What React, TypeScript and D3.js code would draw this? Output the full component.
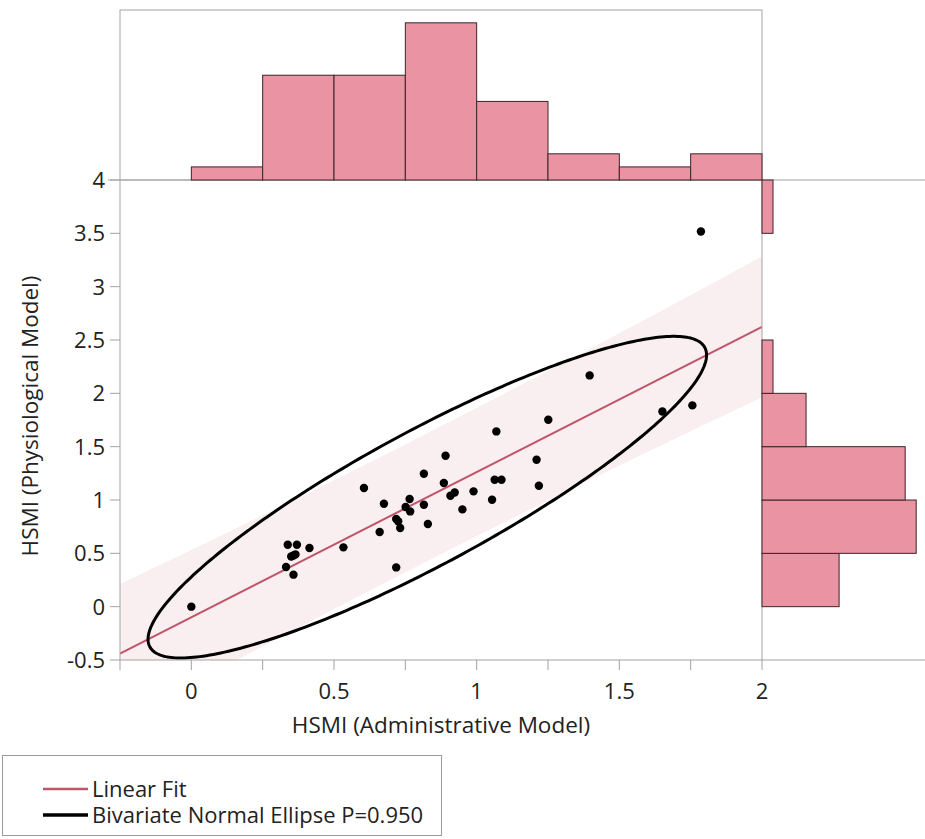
import React, { useEffect, useRef } from 'react';
import * as d3 from 'd3';

// HSMI per hospital: administrative model (x) and physiological model (y)
const adminModel = [0, 0.338, 0.37, 0.358, 0.414, 0.332, 0.358, 0.35, 0.365, 0.605,
  0.675, 0.66, 0.533, 0.718, 0.718, 0.732, 0.751, 0.765, 0.767, 0.815,
  0.815, 0.829, 0.891, 0.885, 0.908, 0.923, 0.95, 1.069, 1.251, 1.21,
  1.063, 1.087, 0.989, 1.054, 1.218, 1.786, 1.396, 1.651, 1.756, 0.725];
const physioModel = [0, 0.58, 0.58, 0.48, 0.55, 0.372, 0.3, 0.47, 0.49, 1.112,
  0.965, 0.7, 0.556, 0.368, 0.822, 0.738, 0.934, 1.009, 0.893, 1.246,
  0.956, 0.775, 1.415, 1.159, 1.04, 1.071, 0.912, 1.643, 1.753, 1.378,
  1.19, 1.19, 1.081, 1.003, 1.134, 3.517, 2.168, 1.83, 1.887, 0.8];

// border histograms
const xBinEdges = [0, 0.25, 0.5, 0.75, 1, 1.25, 1.5, 1.75, 2];
const xBinCounts = [1, 8, 8, 12, 6, 2, 1, 2];
const yBinEdges = [0, 0.5, 1, 1.5, 2, 2.5, 3, 3.5, 4];
const yBinCounts = [7, 14, 13, 4, 1, 0, 0, 1];

const xTicks = [-0.25, 0, 0.25, 0.5, 0.75, 1, 1.25, 1.5, 1.75, 2];
const xTickLabels = [0, 0.5, 1, 1.5, 2];
const yTicks = [-0.5, 0, 0.5, 1, 1.5, 2, 2.5, 3, 3.5, 4];

const legendItems = ['Linear Fit', 'Bivariate Normal Ellipse P=0.950'];

const FONT = '"Open Sans", sans-serif';
const FIT_COLOR = '#bf5568';
const BAR_COLOR = '#ea93a2';

const App = () => {
  const ref = useRef(null);

  useEffect(() => {
    if (ref.current) drawChart(ref.current);
  }, []);

  return <svg ref={ref} width={925} height={839} style={{ position: 'absolute', left: 0, top: 0, background: '#fff' }} />;
};

function drawChart(node) {
  const svg = d3.select(node);
  svg.selectAll('*').remove();

  const left = 120, right = 762, top = 180, bottom = 660;

  const x = d3.scaleLinear().domain([-0.25, 2]).range([left, right]);
  const y = d3.scaleLinear().domain([-0.5, 4]).range([bottom, top]);
  const topH = d3.scaleLinear().domain([0, 12.98]).range([top, 10]);
  const rightH = d3.scaleLinear().domain([0, 14.8]).range([right, 925]);

  // stats
  const n = adminModel.length;
  const mx = d3.mean(adminModel), my = d3.mean(physioModel);
  const sx = d3.deviation(adminModel), sy = d3.deviation(physioModel);
  let sxy = 0;
  for (let i = 0; i < n; i++) sxy += (adminModel[i] - mx) * (physioModel[i] - my);
  sxy /= n - 1;
  const r = sxy / (sx * sy);
  const slope = sxy / (sx * sx);
  const intercept = my - slope * mx;
  let sse = 0;
  for (let i = 0; i < n; i++) sse += (physioModel[i] - (intercept + slope * adminModel[i])) ** 2;
  const s = Math.sqrt(sse / (n - 2));
  const sxx = sx * sx * (n - 1);
  const tCrit = 2.0244;

  const defs = svg.append('defs');
  defs.append('clipPath').attr('id', 'plotClip')
    .append('rect').attr('x', left).attr('y', top).attr('width', right - left).attr('height', bottom - top);

  const plot = svg.append('g').attr('clip-path', 'url(#plotClip)');

  // shaded prediction band for individual values
  const xs = d3.range(-0.3, 2.05, 0.01);
  const half = d => tCrit * s * Math.sqrt(1 + 1 / n + (d - mx) ** 2 / sxx);
  const band = d3.area()
    .x(d => x(d))
    .y0(d => y(intercept + slope * d - half(d)))
    .y1(d => y(intercept + slope * d + half(d)));
  plot.append('path').attr('d', band(xs)).attr('fill', '#c85a6e').attr('fill-opacity', 0.1);

  // fit line
  plot.append('line')
    .attr('x1', x(-0.25)).attr('y1', y(intercept + slope * -0.25))
    .attr('x2', x(2)).attr('y2', y(intercept + slope * 2))
    .attr('stroke', FIT_COLOR).attr('stroke-width', 2);

  // density ellipse
  const c = Math.sqrt(-2 * Math.log(1 - 0.95));
  const ts = d3.range(0, Math.PI * 2 + 0.01, 0.02);
  const ellipse = d3.line()
    .x(t => x(mx + c * sx * Math.cos(t)))
    .y(t => y(my + c * sy * (r * Math.cos(t) + Math.sqrt(1 - r * r) * Math.sin(t))))
    .curve(d3.curveLinearClosed);
  plot.append('path').attr('d', ellipse(ts)).attr('fill', 'none')
    .attr('stroke', '#000').attr('stroke-width', 3);

  // points
  plot.selectAll('circle').data(adminModel).enter().append('circle')
    .attr('cx', d => x(d))
    .attr('cy', (d, i) => y(physioModel[i]))
    .attr('r', 4.2)
    .attr('fill', '#000');

  // frames
  const frame = '#a3a3a3';
  svg.append('rect').attr('x', left).attr('y', 10).attr('width', right - left).attr('height', top - 10)
    .attr('fill', 'none').attr('stroke', frame);
  svg.append('line').attr('x1', 108).attr('x2', 925).attr('y1', top).attr('y2', top).attr('stroke', frame);
  svg.append('line').attr('x1', left).attr('x2', 925).attr('y1', bottom).attr('y2', bottom).attr('stroke', frame);
  svg.append('line').attr('x1', left).attr('x2', left).attr('y1', top).attr('y2', bottom).attr('stroke', frame);
  svg.append('line').attr('x1', right).attr('x2', right).attr('y1', top).attr('y2', bottom).attr('stroke', frame);

  // top histogram
  svg.append('g').selectAll('rect').data(xBinCounts).enter().append('rect')
    .attr('x', (d, i) => x(xBinEdges[i]))
    .attr('width', (d, i) => x(xBinEdges[i + 1]) - x(xBinEdges[i]))
    .attr('y', d => topH(d))
    .attr('height', d => top - topH(d))
    .attr('fill', BAR_COLOR).attr('stroke', '#3c2428').attr('stroke-width', 1);

  // right histogram
  const yBins = yBinCounts
    .map((count, i) => ({ count, lo: yBinEdges[i], hi: yBinEdges[i + 1] }))
    .filter(b => b.count > 0);
  svg.append('g').selectAll('rect').data(yBins).enter().append('rect')
    .attr('x', right)
    .attr('y', d => y(d.hi))
    .attr('height', d => y(d.lo) - y(d.hi))
    .attr('width', d => rightH(d.count) - right)
    .attr('fill', BAR_COLOR).attr('stroke', '#3c2428').attr('stroke-width', 1);

  // x axis ticks
  const xAxis = svg.append('g');
  xAxis.selectAll('line').data(xTicks).enter().append('line')
    .attr('x1', d => x(d)).attr('x2', d => x(d)).attr('y1', bottom).attr('y2', bottom + 10)
    .attr('stroke', frame);
  xAxis.selectAll('text').data(xTickLabels).enter().append('text')
    .attr('x', d => x(d)).attr('y', 699)
    .attr('text-anchor', 'middle')
    .style('font-family', FONT).style('font-size', '22px').style('fill', '#222')
    .text(d => String(d));

  // y axis ticks
  const yAxis = svg.append('g');
  yAxis.selectAll('line').data(yTicks).enter().append('line')
    .attr('x1', left - 10).attr('x2', left).attr('y1', d => y(d)).attr('y2', d => y(d))
    .attr('stroke', frame);
  yAxis.selectAll('text').data(yTicks).enter().append('text')
    .attr('x', 105).attr('y', d => y(d)).attr('dy', '0.36em')
    .attr('text-anchor', 'end')
    .style('font-family', FONT).style('font-size', '22px').style('fill', '#222')
    .text(d => String(d));

  // axis titles
  svg.append('text')
    .attr('x', (left + right) / 2).attr('y', 733)
    .attr('text-anchor', 'middle')
    .style('font-family', FONT).style('font-size', '22.5px').style('fill', '#222')
    .text('HSMI (Administrative Model)');
  svg.append('text')
    .attr('transform', `translate(38,${(top + bottom) / 2 - 4}) rotate(-90)`)
    .attr('text-anchor', 'middle')
    .style('font-family', FONT).style('font-size', '22.5px').style('fill', '#222')
    .text('HSMI (Physiological Model)');

  // legend
  const legend = svg.append('g');
  legend.append('rect').attr('x', 2.5).attr('y', 755.5).attr('width', 439).attr('height', 80)
    .attr('fill', '#fff').attr('stroke', '#9a9a9a');
  const rows = legend.selectAll('g.row').data(legendItems).enter().append('g')
    .attr('class', 'row')
    .attr('transform', (d, i) => `translate(0,${789 + i * 26})`);
  rows.append('line').attr('x1', 43).attr('x2', 88).attr('y1', 0).attr('y2', 0)
    .attr('stroke', (d, i) => (i === 0 ? FIT_COLOR : '#000'))
    .attr('stroke-width', (d, i) => (i === 0 ? 2.5 : 3.5));
  rows.append('text').attr('x', 92).attr('y', 0).attr('dy', '0.36em')
    .style('font-family', FONT).style('font-size', '22px').style('fill', '#222')
    .text(d => d);
}

export default App;
